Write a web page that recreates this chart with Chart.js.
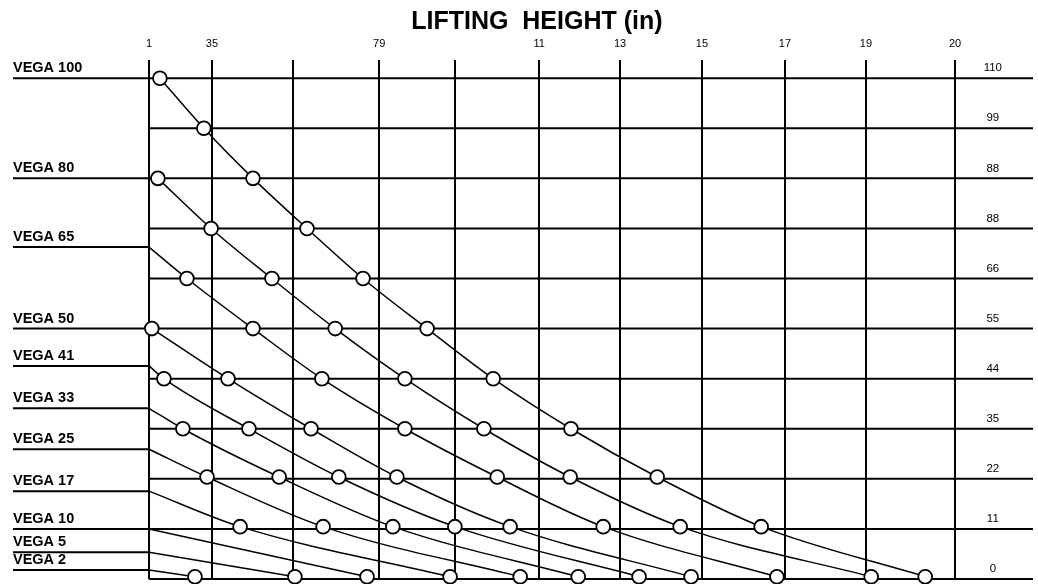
<!DOCTYPE html>
<html lang="en">
  <head>
    <meta charset="UTF-8" />
    <meta name="viewport" content="width=device-width, initial-scale=1.0" />
    <title>Lifting Height Chart</title>
    <style>
      html, body { margin: 0; padding: 0; background: #fff; }
      .container--liftChart { position: relative; width: 1038px; height: 584px; }
    </style>
  </head>
  <body>
    <main>
      <div class="container--liftChart">
        <canvas id="myChart"></canvas>
      </div>
    </main>
    <script src="https://cdn.jsdelivr.net/npm/chart.js@4.4.0/dist/chart.umd.min.js"></script>
    <script>
      // top axis: lifting height grid and its (printed) labels
      const xGrid = [1, 2.56, 4.57, 6.71, 8.59, 10.68, 12.69, 14.72, 16.78, 18.79, 21];
      const xLabels = ['1', '35', '', '79', '', '11', '13', '15', '17', '19', '20'];

      // right side capacity rows and their labels
      const yGrid = [0, 11, 22, 33, 44, 55, 66, 77, 88, 99, 110];
      const yLabels = ['0', '11', '22', '35', '44', '55', '66', '88', '88', '99', '110'];

      // models and where each one enters on the left
      const models = ['VEGA 100', 'VEGA 80', 'VEGA 65', 'VEGA 50', 'VEGA 41', 'VEGA 33',
        'VEGA 25', 'VEGA 17', 'VEGA 10', 'VEGA 5', 'VEGA 2'];
      const modelStart = [110, 88, 72.9, 55, 46.8, 37.5, 28.5, 19.3, 11, 5.9, 2];

      // curve points (height, row) for each model
      const vega100X = [1.27, 2.36, 3.58, 4.92, 6.31, 7.9, 9.54, 11.47, 13.61, 16.19, 20.26];
      const vega100Y = [110, 99, 88, 77, 66, 55, 44, 33, 22.4, 11.5, 0.5];
      const vega80X = [1.22, 2.54, 4.05, 5.62, 7.35, 9.31, 11.45, 14.18, 18.92];
      const vega80Y = [88, 77, 66, 55, 44, 33, 22.4, 11.5, 0.5];
      const vega65X = [1, 1.94, 3.58, 5.29, 7.35, 9.64, 12.27, 16.58];
      const vega65Y = [72.9, 66, 55, 44, 33, 22.4, 11.5, 0.5];
      const vega50X = [1.07, 2.96, 5.02, 7.15, 9.96, 14.45];
      const vega50Y = [55, 44, 33, 22.4, 11.5, 0.5];
      const vega41X = [1, 1.37, 3.48, 5.71, 8.59, 13.16];
      const vega41Y = [46.8, 44, 33, 22.4, 11.5, 0.5];
      const vega33X = [1, 1.84, 4.23, 7.05, 11.65];
      const vega33Y = [37.5, 33, 22.4, 11.5, 0.5];
      const vega25X = [1, 2.44, 5.32, 10.21];
      const vega25Y = [28.5, 22.4, 11.5, 0.5];
      const vega17X = [1, 3.26, 8.47];
      const vega17Y = [19.3, 11.5, 0.5];
      const vega10X = [1, 6.41];
      const vega10Y = [11, 0.5];
      const vega5X = [1, 4.62];
      const vega5Y = [5.9, 0.5];
      const vega2X = [1, 2.14];
      const vega2Y = [2, 0.5];

      const curveX = [vega100X, vega80X, vega65X, vega50X, vega41X, vega33X, vega25X, vega17X, vega10X, vega5X, vega2X];
      const curveY = [vega100Y, vega80Y, vega65Y, vega50Y, vega41Y, vega33Y, vega25Y, vega17Y, vega10Y, vega5Y, vega2Y];

      const xMin = -2.375;
      const xMax = 22.935;
      const FONT = "'Liberation Sans', Arial, sans-serif";

      Chart.defaults.font.family = FONT;
      Chart.defaults.color = '#000';

      const curveSets = curveX.map((xs, k) => ({
        label: models[k],
        data: xs.map((x, i) => ({ x: x, y: curveY[k][i] })),
        borderColor: '#000',
        borderWidth: 1.5,
        cubicInterpolationMode: 'monotone',
        pointRadius: xs.map((x) => (x === xGrid[0] ? 0 : 6.9)),
        pointBackgroundColor: '#fff',
        pointBorderColor: '#000',
        pointBorderWidth: 1.8,
        clip: false,
      }));

      const rowSets = yGrid.map((y) => ({
        data: [{ x: xGrid[0], y: y }, { x: xMax, y: y }],
        borderColor: '#000',
        borderWidth: 2,
        pointRadius: 0,
        clip: false,
      }));

      const leaderSets = modelStart.map((y) => ({
        data: [{ x: xMin, y: y }, { x: xGrid[0], y: y }],
        borderColor: '#000',
        borderWidth: 2,
        pointRadius: 0,
        clip: false,
      }));

      // side axes take no room of their own
      const flatSide = (s) => { s.width = 0; s.paddingTop = 0; s.paddingBottom = 0; };

      const config = {
        type: 'line',
        data: { datasets: [...curveSets, ...rowSets, ...leaderSets] },
        options: {
          animation: false,
          responsive: true,
          maintainAspectRatio: false,
          events: [],
          layout: { autoPadding: false, padding: { left: 13, right: 5, top: 0, bottom: 5 } },
          plugins: {
            legend: { display: false },
            tooltip: { enabled: false },
            title: {
              display: true,
              text: '    LIFTING  HEIGHT (in)',
              color: '#000',
              font: { size: 25, weight: 'bold', family: FONT },
              padding: { top: 7, bottom: 0 },
            },
          },
          scales: {
            x: {
              type: 'linear',
              position: 'top',
              min: xMin,
              max: xMax,
              afterBuildTicks: (s) => { s.ticks = xGrid.map((v) => ({ value: v })); },
              afterFit: (s) => { s.height = 23; s.paddingLeft = 0; s.paddingRight = 0; },
              ticks: {
                autoSkip: false,
                maxRotation: 0,
                padding: 9,
                font: { size: 11 },
                callback: (v, i) => xLabels[i],
              },
              grid: { color: '#000', lineWidth: 2, drawTicks: false },
              border: { display: false },
            },
            y: {
              type: 'linear',
              position: 'right',
              min: 0,
              max: 114,
              afterBuildTicks: (s) => { s.ticks = yGrid.map((v) => ({ value: v })); },
              afterFit: flatSide,
              ticks: {
                autoSkip: false,
                mirror: true,
                padding: -31,
                crossAlign: 'center',
                labelOffset: -10,
                font: { size: 11.5, lineHeight: 0.6 },
                callback: (v, i) => yLabels[i],
              },
              grid: { display: false },
              border: { display: false },
            },
            models: {
              type: 'linear',
              position: 'left',
              min: 0,
              max: 114,
              afterBuildTicks: (s) => { s.ticks = modelStart.map((v) => ({ value: v })); },
              afterFit: flatSide,
              ticks: {
                autoSkip: false,
                mirror: true,
                padding: 0,
                labelOffset: -10,
                font: { size: 14.5, weight: 'bold', lineHeight: 0.6 },
                callback: (v, i) => models[i],
              },
              grid: { display: false },
              border: { display: false },
            },
          },
        },
      };

      const myChart = new Chart(document.getElementById('myChart'), config);
    </script>
  </body>
</html>
